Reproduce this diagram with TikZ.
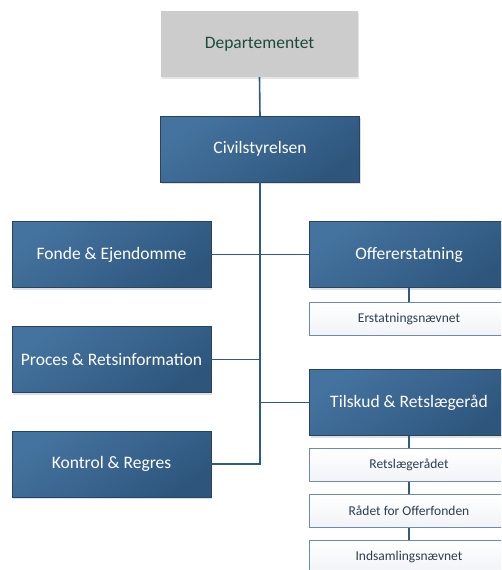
\documentclass[tikz,border=0pt]{standalone}
\usepackage{fontspec}
\setmainfont{Carlito}
\usetikzlibrary{shadows}
\definecolor{bluetop}{HTML}{44739F}
\definecolor{bluebot}{HTML}{2E567D}
\definecolor{linec}{HTML}{2E5A84}
\definecolor{depfill}{HTML}{CCCCCC}
\definecolor{deptext}{HTML}{1E4A3C}
\definecolor{subfill}{HTML}{F1F3F7}
\definecolor{subborder}{HTML}{6D8BAA}
\definecolor{subtext}{HTML}{2C3E52}
\tikzset{
  unit/.style={rectangle, minimum width=199pt, minimum height=66pt, inner sep=0pt,
    top color=bluetop, bottom color=bluebot, shading angle=35,
    draw=bluebot!80!black, line width=0.3pt, text=white, font=\fontsize{17.5}{20}\selectfont,
    drop shadow={shadow xshift=1pt, shadow yshift=-2pt, fill=black!25, opacity=0.5}},
  depbox/.style={rectangle, minimum width=197pt, minimum height=66pt, inner sep=0pt,
    fill=depfill, text=deptext, font=\fontsize{17.5}{20}\selectfont,
    drop shadow={shadow xshift=1pt, shadow yshift=-2pt, fill=black!20, opacity=0.5}},
  subbox/.style={rectangle, minimum width=199pt, minimum height=33pt, inner sep=0pt,
    top color=white, bottom color=subfill, draw=subborder, line width=0.8pt,
    text=subtext, font=\fontsize{13.5}{15}\selectfont},
  conn/.style={draw=linec, line width=1.6pt}
}
\begin{document}
\begin{tikzpicture}[x=1pt,y=-1pt]
\useasboundingbox (0,0) rectangle (501,570);
\begin{scope}
\clip (0,0) rectangle (501,570);
\node[depbox] (dep) at (259.5,44) {Departementet};
\node[unit] (civ) at (260,149) {Civilstyrelsen};
\coordinate (trunk) at (260,465);
\node[unit] (fonde) at (111.5,254.5) {Fonde \& Ejendomme};
\node[unit] (proces) at (111.5,359.5) {Proces \& Retsinformation};
\node[unit] (kontrol) at (111.5,464) {Kontrol \& Regres};
\node[unit] (offer) at (409,254.5) {Offererstatning};
\node[subbox] (erst) at (409,319) {Erstatningsnævnet};
\node[unit] (tilskud) at (409,402.5) {Tilskud \& Retslægeråd};
\node[subbox] (retsl) at (409,465) {Retslægerådet};
\node[subbox] (raadet) at (409,511) {Rådet for Offerfonden};
\node[subbox] (indsam) at (409,557) {Indsamlingsnævnet};
\draw[conn] (dep.south) -- (civ.north);
\draw[conn] (civ.south) -- (trunk);
\draw[conn] (fonde.east) -- (fonde.east -| trunk);
\draw[conn] (proces.east) -- (proces.east -| trunk);
\draw[conn] (kontrol.east) -- (kontrol.east -| trunk);
\draw[conn] (offer.west) -- (offer.west -| trunk);
\draw[conn] (tilskud.west) -- (tilskud.west -| trunk);
\draw[conn] (offer.south) -- (erst.north);
\draw[conn] (tilskud.south) -- (retsl.north);
\draw[conn] (retsl.south) -- (raadet.north);
\draw[conn] (raadet.south) -- (indsam.north);
\end{scope}
\end{tikzpicture}
\end{document}
